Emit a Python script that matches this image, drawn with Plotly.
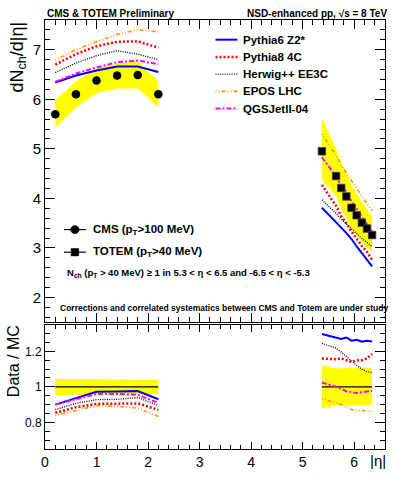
import plotly.graph_objects as go

# ---------------- data ----------------
eta_cms = [0.2, 0.6, 1.0, 1.4, 1.8, 2.2]
cms = [5.70, 6.10, 6.38, 6.48, 6.49, 6.10]
cms_lo = [5.42, 5.83, 6.12, 6.22, 6.22, 5.84]
cms_hi = [5.98, 6.36, 6.62, 6.72, 6.76, 6.36]

eta_tot = [5.375, 5.65, 5.75, 5.85, 5.95, 6.05, 6.15, 6.25, 6.35]
totem = [4.95, 4.45, 4.21, 4.04, 3.81, 3.66, 3.51, 3.39, 3.26]
tot_lo = [4.37, 4.05, 3.78, 3.60, 3.40, 3.25, 3.12, 3.00, 2.92]
tot_hi = [5.62, 5.00, 4.72, 4.52, 4.27, 4.10, 3.92, 3.78, 3.63]

mc_names = ["Pythia6 Z2*", "Pythia8 4C", "Herwig++ EE3C", "EPOS LHC", "QGSJetII-04"]
# top panel, central region
p6_c = [6.34, 6.48, 6.58, 6.66, 6.66, 6.55]
p8_c = [6.70, 6.91, 7.07, 7.16, 7.17, 7.04]
hw_c = [6.54, 6.73, 6.88, 6.98, 6.91, 6.80]
ep_c = [6.79, 7.00, 7.16, 7.31, 7.40, 7.36]
qg_c = [6.35, 6.52, 6.64, 6.75, 6.78, 6.71]
# top panel, forward region
p6_f = [3.81, 3.53, 3.41, 3.30, 3.18, 3.03, 2.90, 2.75, 2.63]
p8_f = [4.27, 3.85, 3.64, 3.50, 3.33, 3.18, 3.04, 2.92, 2.76]
hw_f = [3.97, 3.70, 3.58, 3.48, 3.37, 3.28, 3.19, 3.11, 3.03]
ep_f = [5.30, 4.87, 4.67, 4.52, 4.35, 4.20, 4.04, 3.90, 3.75]
qg_f = [4.83, 4.45, 4.25, 4.14, 3.93, 3.79, 3.62, 3.48, 3.33]
# ratio panel, central
p6_rc = [0.900, 0.935, 0.972, 0.974, 0.976, 0.930]
p8_rc = [0.854, 0.885, 0.904, 0.907, 0.907, 0.870]
hw_rc = [0.872, 0.907, 0.928, 0.930, 0.940, 0.895]
ep_rc = [0.839, 0.867, 0.894, 0.890, 0.880, 0.833]
qg_rc = [0.900, 0.930, 0.960, 0.960, 0.955, 0.910]
# ratio panel, forward
p6_rf = [1.298, 1.280, 1.270, 1.278, 1.260, 1.265, 1.255, 1.260, 1.255]
p8_rf = [1.160, 1.155, 1.160, 1.150, 1.140, 1.150, 1.150, 1.160, 1.185]
hw_rf = [1.245, 1.218, 1.196, 1.170, 1.144, 1.120, 1.100, 1.085, 1.080]
ep_rf = [0.935, 0.910, 0.900, 0.885, 0.872, 0.867, 0.867, 0.865, 0.861]
qg_rf = [1.025, 1.000, 0.990, 0.975, 0.970, 0.965, 0.970, 0.975, 0.978]
# ratio bands and unity
rc_hi = [1.046, 1.045, 1.044, 1.042, 1.041, 1.039]
rc_lo = [0.954, 0.955, 0.956, 0.957, 0.958, 0.959]
rf_hi = [1.120, 1.104, 1.105, 1.105, 1.106, 1.106, 1.107, 1.107, 1.107]
rf_lo = [0.880, 0.895, 0.896, 0.896, 0.897, 0.897, 0.898, 0.898, 0.898]
unity_c = [1, 1, 1, 1, 1, 1]
unity_f = [1, 1, 1, 1, 1, 1, 1, 1, 1]

# ---------------- styles ----------------
styles = [
    dict(color="#0000ff", width=2, dash="solid"),
    dict(color="#ff0000", width=2.5, dash="2px,2px"),
    dict(color="#111111", width=1.4, dash="1px,1.3px"),
    dict(color="#ff9900", width=1.6, dash="1px,2px,1px,2px,4px,2px"),
    dict(color="#ff00ff", width=2, dash="5px,2px,2px,2px"),
]
top_c = [p6_c, p8_c, hw_c, ep_c, qg_c]
top_f = [p6_f, p8_f, hw_f, ep_f, qg_f]
rat_c = [p6_rc, p8_rc, hw_rc, ep_rc, qg_rc]
rat_f = [p6_rf, p8_rf, hw_rf, ep_rf, qg_rf]

YELLOW = "#ffff00"
FONT = "Liberation Sans"

fig = go.Figure()

def band(x, lo, hi, xa, ya):
    fig.add_trace(go.Scatter(x=x + x[::-1], y=hi + lo[::-1], fill="toself",
                             fillcolor=YELLOW, line=dict(width=0), mode="lines",
                             xaxis=xa, yaxis=ya, showlegend=False, hoverinfo="skip"))

# top panel
band(eta_cms, cms_lo, cms_hi, "x", "y")
band(eta_tot, tot_lo, tot_hi, "x", "y")
for i in range(5):
    fig.add_trace(go.Scatter(x=eta_cms + [None] + eta_tot, y=top_c[i] + [None] + top_f[i],
                             mode="lines", line=styles[i], name=mc_names[i],
                             xaxis="x", yaxis="y", showlegend=False, connectgaps=False))
fig.add_trace(go.Scatter(x=eta_cms, y=cms, mode="markers",
                         marker=dict(symbol="circle", size=8.5, color="black"),
                         xaxis="x", yaxis="y", showlegend=False))
fig.add_trace(go.Scatter(x=eta_tot, y=totem, mode="markers",
                         marker=dict(symbol="square", size=7.5, color="black",
                                     line=dict(color="#444444", width=0.8)),
                         xaxis="x", yaxis="y", showlegend=False))

# ratio panel
band(eta_cms, rc_lo, rc_hi, "x2", "y2")
band(eta_tot, rf_lo, rf_hi, "x2", "y2")
fig.add_trace(go.Scatter(x=eta_cms + [None] + eta_tot, y=unity_c + [None] + unity_f,
                         mode="lines", line=dict(color="black", width=1.2),
                         xaxis="x2", yaxis="y2", showlegend=False, connectgaps=False))
for i in range(5):
    fig.add_trace(go.Scatter(x=eta_cms + [None] + eta_tot, y=rat_c[i] + [None] + rat_f[i],
                             mode="lines", line=styles[i], xaxis="x2", yaxis="y2",
                             showlegend=False, connectgaps=False))

# ---------------- layout ----------------
W, H = 393, 477
ML, MR, MT, MB = 45, 7, 20, 21
PW, PH = W - ML - MR, H - MT - MB

def fx(px):
    return (px - ML) / PW

def fy(py):
    return (H - MB - py) / PH

top_dom = [fy(327.2), 1.0]
bot_dom = [0.0, fy(329.7)]

axis_common = dict(showline=True, linecolor="black", linewidth=1, mirror="ticks",
                   ticks="inside", showgrid=False, zeroline=False,
                   tickcolor="black", tickwidth=1)

fig.update_layout(
    width=W, height=H, margin=dict(l=ML, r=MR, t=MT, b=MB),
    plot_bgcolor="white", paper_bgcolor="white", showlegend=False,
    font=dict(family=FONT, color="black"),
    xaxis=dict(**axis_common, domain=[0, 1], anchor="y", range=[0, 6.6],
               dtick=1, ticklen=9, showticklabels=False,
               minor=dict(dtick=0.2, ticklen=5, ticks="inside", tickcolor="black")),
    yaxis=dict(**axis_common, domain=top_dom, anchor="x", range=[1.5, 7.6],
               dtick=1, ticklen=10, tickfont=dict(size=15, family=FONT),
               minor=dict(dtick=0.2, ticklen=5, ticks="inside", tickcolor="black")),
    xaxis2=dict(**axis_common, domain=[0, 1], anchor="y2", range=[0, 6.6],
                dtick=1, ticklen=7, tickfont=dict(size=14, family=FONT),
                minor=dict(dtick=0.2, ticklen=4, ticks="inside", tickcolor="black")),
    yaxis2=dict(**axis_common, domain=bot_dom, anchor="x2", range=[0.65, 1.35],
                tickvals=[0.8, 1.0, 1.2], ticktext=["0.8", "1", "1.2"], ticklen=10,
                tickfont=dict(size=12, family=FONT),
                minor=dict(dtick=0.05, ticklen=5, ticks="inside", tickcolor="black")),
)

shapes = []
annos = []

def txt(text, px, py, size, xanchor="left", bold=True, angle=0, yanchor="middle"):
    annos.append(dict(text=text, x=fx(px), y=fy(py), xref="paper", yref="paper",
                      xanchor=xanchor, yanchor=yanchor, showarrow=False, textangle=angle,
                      font=dict(family=FONT, size=size, color="black",
                                weight="bold" if bold else "normal")))

# MC legend
leg_y = [40, 57.5, 75, 92.5, 110]
for i in range(5):
    st = styles[i]
    shapes.append(dict(type="line", xref="paper", yref="paper",
                       x0=fx(216), x1=fx(238), y0=fy(leg_y[i]), y1=fy(leg_y[i]),
                       line=dict(color=st["color"], width=st["width"], dash=st["dash"])))
    txt(mc_names[i], 242, leg_y[i], 11.5)

# data legend
for (py, kind, label) in [(233, "circle", "CMS (p<sub>T</sub>>100 MeV)"),
                          (256, "rect", "TOTEM (p<sub>T</sub>>40 MeV)")]:
    shapes.append(dict(type="line", xref="paper", yref="paper", x0=fx(64), x1=fx(86),
                       y0=fy(py), y1=fy(py), line=dict(color="black", width=1.2)))
    r = 4.2 if kind == "circle" else 3.8
    shapes.append(dict(type=kind, xref="paper", yref="paper", x0=fx(75 - r), x1=fx(75 + r),
                       y0=fy(py + r), y1=fy(py - r), fillcolor="black",
                       line=dict(color="black", width=0.5)))
    txt(label, 91, py, 11.5)

txt("N<sub>ch</sub> (p<sub>T</sub> > 40 MeV) ≥ 1 in 5.3 < η < 6.5 and -6.5 < η < -5.3",
    65, 277, 9.5)
txt("Corrections and correlated systematics between CMS and Totem are under study",
    58, 313, 8.5)
txt("CMS & TOTEM Preliminary", 45, 13, 10)
txt("NSD-enhanced pp, √s = 8 TeV", 390, 13, 10, xanchor="right")

# axis titles
txt("dN<sub>ch</sub>/d|η|", 18, 20, 18, xanchor="center", bold=False, angle=-90, yanchor="top")
txt("Data / MC", 13, 328, 16, xanchor="center", bold=False, angle=-90, yanchor="top")
txt("|η|", 389, 468, 15, xanchor="right", bold=False)

fig.update_layout(shapes=shapes, annotations=annos)
fig.write_html("out.html", config={"displayModeBar": False},
               post_script="document.body.style.margin='0px';document.body.style.overflow='hidden';")
